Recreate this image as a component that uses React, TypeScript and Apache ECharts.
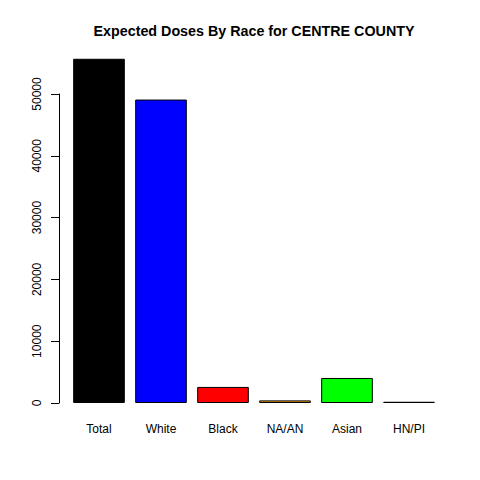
import React, { useEffect, useRef } from "react";
import * as echarts from "echarts";

const categories = ["Total", "White", "Black", "NA/AN", "Asian", "HN/PI"];
const doses = [55700, 49100, 2600, 420, 4050, 200];
const barColors = ["#000000", "#0000FF", "#FF0000", "#FFA500", "#00FF00", "#000000"];
const yTicks = [0, 10000, 20000, 30000, 40000, 50000];
const titleText = "Expected Doses By Race for CENTRE COUNTY";

export default function App() {
  const ref = useRef<HTMLDivElement>(null);
  useEffect(() => {
    if (!ref.current) return;
    const chart = echarts.init(ref.current, null, { renderer: "svg" });
    const font = "'Liberation Sans', Arial, sans-serif";
    chart.setOption({
      animation: false,
      backgroundColor: "#ffffff",
      textStyle: { fontFamily: font },
      graphic: [
        {
          type: "text",
          x: 254,
          y: 31,
          style: {
            text: titleText,
            font: `bold 14.3px ${font}`,
            fill: "#000",
            textAlign: "center",
            textVerticalAlign: "middle",
          },
        },
      ],
      grid: { left: 68, width: 372, top: 94, bottom: 77 },
      xAxis: {
        type: "category",
        data: categories,
        axisLine: { show: false },
        axisTick: { show: false },
        axisLabel: { color: "#000", fontSize: 12, fontFamily: font, margin: 20 },
      },
      yAxis: {
        type: "value",
        min: yTicks[0],
        max: yTicks[yTicks.length - 1],
        interval: 10000,
        offset: 9,
        axisLine: { show: true, lineStyle: { color: "#000", width: 1 } },
        axisTick: { show: true, length: 8, lineStyle: { color: "#000" } },
        splitLine: { show: false },
        axisLabel: {
          rotate: 90,
          color: "#000",
          fontSize: 12,
          fontFamily: font,
          margin: 16,
          formatter: (v: number) => String(v),
        },
      },
      series: [
        {
          type: "bar",
          clip: false,
          barCategoryGap: "16.7%",
          data: doses.map((v, i) => ({
            value: v,
            itemStyle: { color: barColors[i], borderColor: "#000", borderWidth: 1 },
          })),
        },
      ],
    });
    return () => chart.dispose();
  }, []);
  return (
    <div
      ref={ref}
      style={{ position: "fixed", left: 0, top: 0, width: 480, height: 480, background: "#fff" }}
    />
  );
}
